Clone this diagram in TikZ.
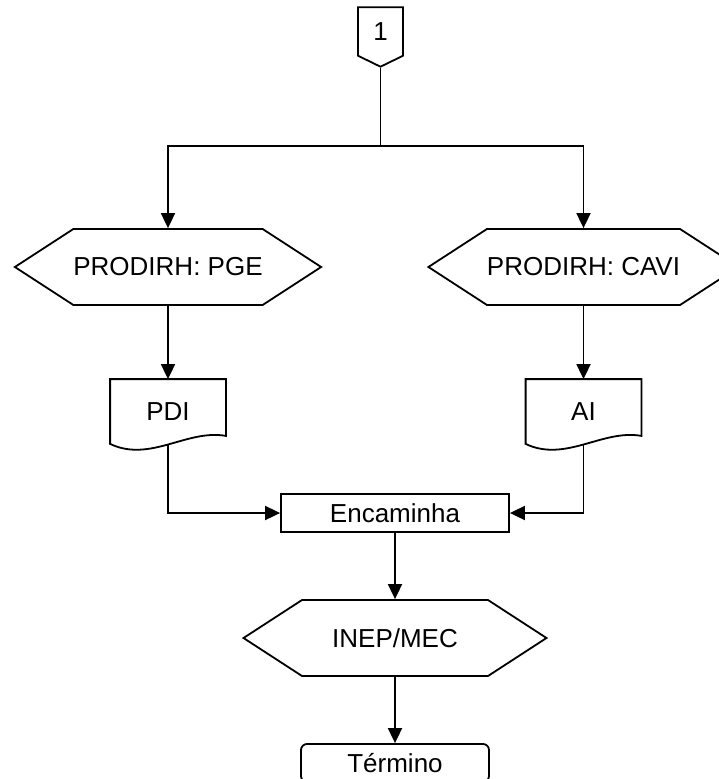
\documentclass[tikz,border=0pt]{standalone}
\usepackage{fontspec}
\setmainfont{Liberation Sans}
\usetikzlibrary{arrows.meta, positioning, shapes.geometric, shapes.symbols}

% outline of a document symbol (wavy bottom)
\newcommand{\docoutline}[1]{%
  \draw (#1.south west) -- (#1.north west) -- (#1.north east)
    -- ([yshift=8pt]#1.south east)
    .. controls +(-39,-7) and +(40,19) .. (#1.south west) -- cycle;}

\begin{document}
\begin{tikzpicture}[x=1pt, y=-1pt, line width=1.8pt,
    every node/.style={font=\fontsize{26}{30}\selectfont, inner sep=0pt},
    hexbox/.style={draw, signal, signal to=west and east, signal pointer angle=66,
        minimum width=303pt, minimum height=76pt},
    docbox/.style={minimum width=114pt, minimum height=63pt},
    procbox/.style={draw, rectangle, minimum width=228pt, minimum height=38pt},
    endbox/.style={draw, rectangle, rounded corners=6pt, minimum width=188pt, minimum height=38pt},
    pagebox/.style={draw, signal, signal to=south, signal pointer angle=128,
        minimum width=45pt, minimum height=52pt},
    arr/.style={-{Triangle[length=15pt, width=14pt]}}]
    \useasboundingbox (0,0) rectangle (718,779);

    \node[pagebox] (page) at (380.5, 31.5) {1};
    \coordinate (split) at (380.5, 146);

    \node[hexbox] (pge) at (168, 267) {PRODIRH: PGE};
    \node[hexbox] (cavi) at (583.5, 267) {PRODIRH: CAVI};

    \node[docbox] (pdi) at (168, 411.5) {PDI};
    \node[docbox] (ai) at (583.5, 411.5) {AI};
    \docoutline{pdi}
    \docoutline{ai}

    \node[procbox] (enc) at (395, 513) {Encaminha};
    \node[hexbox] (inep) at (395, 638) {INEP/MEC};
    \node[endbox] (fim) at (395, 763) {Término};

    % connectors
    \draw (page.south) -- (split);
    \draw[arr] (split) -| (pge.north);
    \draw[arr] (split) -| (cavi.north);
    \draw[arr] (pge.south) -- (pdi.north);
    \draw[arr] (cavi.south) -- (ai.north);
    \draw[arr] (pdi.south) |- (enc.west);
    \draw[arr] (ai.south) |- (enc.east);
    \draw[arr] (enc.south) -- (inep.north);
    \draw[arr] (inep.south) -- (fim.north);
\end{tikzpicture}
\end{document}
